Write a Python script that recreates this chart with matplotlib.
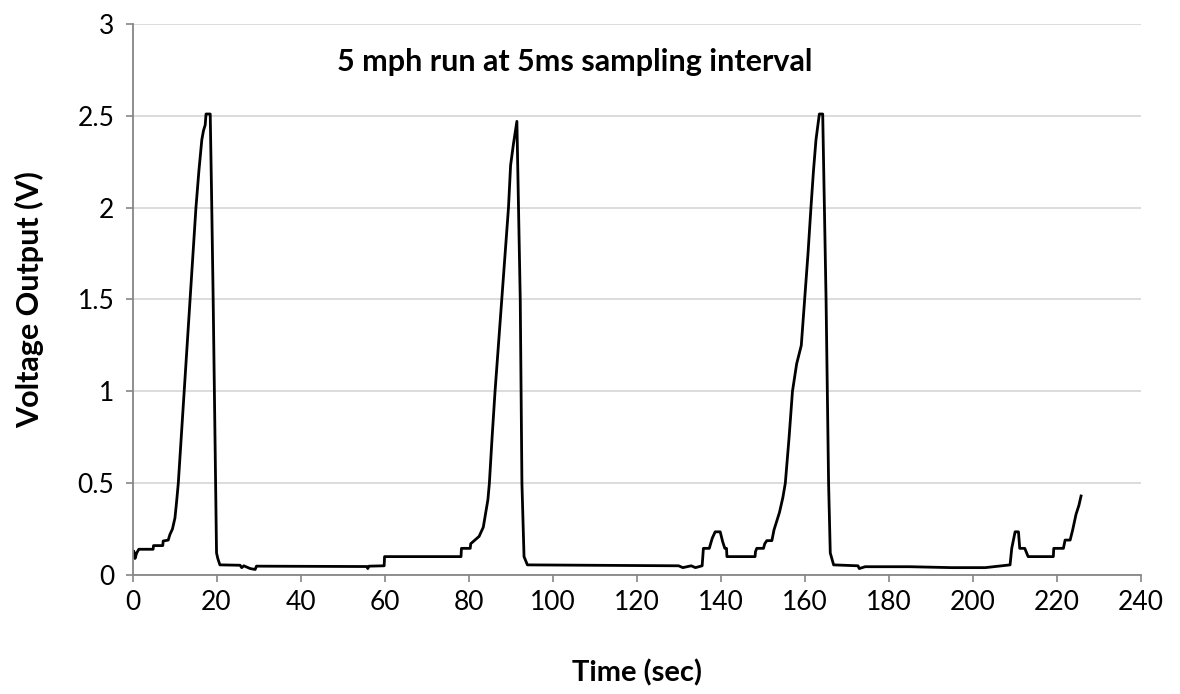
import matplotlib
matplotlib.use("Agg")
import matplotlib.pyplot as plt

time_sec = [0.0, 0.3, 0.6, 1.0, 1.5, 4.9, 5.0, 7.2, 7.3, 8.5, 8.9, 9.5, 10.1, 10.5, 10.9, 11.6,
            12.3, 13.0, 13.7, 14.4, 15.1, 15.8, 16.5, 16.9, 17.3, 17.5, 18.5, 18.8, 19.2, 19.6,
            20.0, 20.3, 20.8, 25.6, 26.0, 26.5, 28.0, 29.2, 29.5, 55.8, 56.0, 56.3, 59.9, 60.0,
            78.2, 78.3, 80.4, 80.5, 81.5, 82.5, 83.5, 84.6, 84.95, 85.6, 86.3, 87.1, 87.9, 88.7,
            89.5, 90.0, 90.7, 91.5, 91.9, 92.3, 92.7, 93.2, 94.0, 130.0, 131.0, 133.0, 134.0,
            135.6, 135.9, 137.3, 138.0, 138.7, 139.9, 140.5, 141.0, 141.4, 141.5, 148.2, 148.3,
            148.6, 150.2, 150.5, 151.0, 152.2, 152.7, 154.0, 154.8, 155.4, 156.3, 157.1, 158.1,
            159.2, 160.0, 160.8, 161.5, 162.1, 162.7, 163.5, 164.3, 164.7, 165.1, 165.4, 165.7,
            166.1, 166.9, 172.7, 173.0, 174.4, 185.0, 195.0, 203.0, 208.9, 209.3, 210.1, 210.9,
            211.2, 212.4, 213.2, 219.2, 219.3, 221.6, 222.0, 223.2, 223.8, 224.6, 225.3, 225.8]
voltage = [0.10, 0.13, 0.09, 0.12, 0.14, 0.14, 0.16, 0.16, 0.185, 0.19, 0.22, 0.25, 0.31, 0.40,
           0.5, 0.75, 1.0, 1.25, 1.5, 1.75, 2.0, 2.2, 2.37, 2.42, 2.45, 2.51, 2.51, 2.1, 1.5, 0.8,
           0.12, 0.09, 0.055, 0.053, 0.04, 0.05, 0.035, 0.03, 0.048, 0.046, 0.035, 0.048, 0.05,
           0.10, 0.10, 0.145, 0.145, 0.17, 0.19, 0.21, 0.26, 0.41, 0.5, 0.75, 1.0, 1.25, 1.5,
           1.75, 2.0, 2.23, 2.35, 2.47, 2.0, 1.5, 0.5, 0.1, 0.055, 0.05, 0.04, 0.05, 0.04, 0.05,
           0.145, 0.145, 0.2, 0.235, 0.235, 0.18, 0.145, 0.145, 0.10, 0.10, 0.127, 0.145, 0.145,
           0.17, 0.187, 0.187, 0.245, 0.34, 0.42, 0.5, 0.75, 1.0, 1.15, 1.25, 1.5, 1.75, 2.0, 2.2,
           2.37, 2.51, 2.51, 2.0, 1.5, 1.0, 0.5, 0.12, 0.055, 0.05, 0.035, 0.045, 0.045, 0.04,
           0.04, 0.055, 0.145, 0.235, 0.235, 0.145, 0.145, 0.10, 0.10, 0.145, 0.145, 0.19, 0.19,
           0.245, 0.33, 0.38, 0.43]

x_ticks = [0, 20, 40, 60, 80, 100, 120, 140, 160, 180, 200, 220, 240]
y_ticks = [0, 0.5, 1, 1.5, 2, 2.5, 3]
y_tick_labels = ["0", "0.5", "1", "1.5", "2", "2.5", "3"]

title = "5 mph run at 5ms sampling interval"
x_label = "Time (sec)"
y_label = "Voltage Output (V)"

plt.rcParams['font.family'] = ['Lato', 'DejaVu Sans']

fig = plt.figure(figsize=(11.8, 6.94), dpi=100)
ax = fig.add_axes([0.1123, 0.1715, 0.8544, 0.7939])

ax.plot(time_sec, voltage, color='black', linewidth=2.0, solid_joinstyle='round')

ax.set_xlim(0, 240)
ax.set_ylim(0, 3)
ax.set_xticks(x_ticks)
ax.set_yticks(y_ticks)
ax.set_yticklabels(y_tick_labels)
ax.yaxis.grid(True, color='#d9d9d9', linewidth=1.3)
ax.set_axisbelow(True)

for s in ['top', 'right']:
    ax.spines[s].set_visible(False)
for s in ['left', 'bottom']:
    ax.spines[s].set_color('#868686')
    ax.spines[s].set_linewidth(1.3)

ax.tick_params(axis='both', colors='#868686', length=5, width=1.2, labelsize=19,
               labelcolor='black')
ax.tick_params(axis='x', pad=6)
ax.tick_params(axis='y', pad=8)

ax.set_xlabel(x_label, fontsize=21, fontweight='bold', labelpad=32)
ax.set_ylabel(y_label, fontsize=22, fontweight='bold', labelpad=24)

fig.text(0.487, 0.911, title, fontsize=22, fontweight='bold', ha='center', va='center')

fig.savefig("out.png", dpi=100)
